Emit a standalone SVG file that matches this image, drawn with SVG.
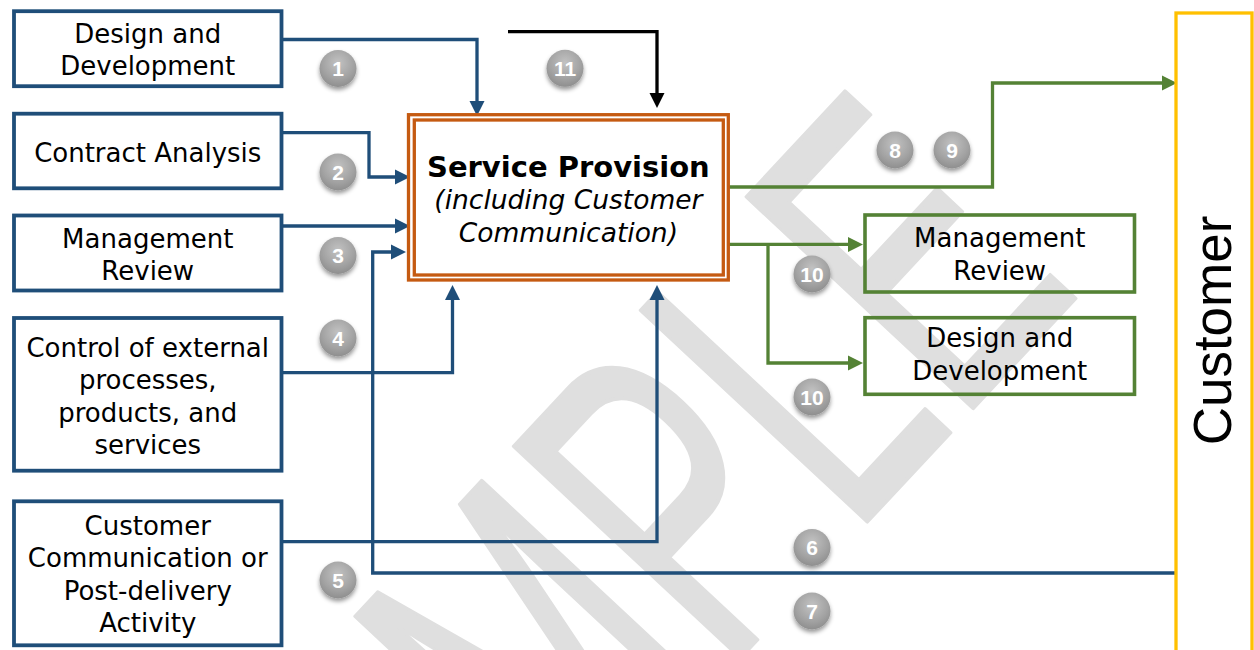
<svg xmlns="http://www.w3.org/2000/svg" width="1254" height="650" viewBox="0 0 1254 650">
  <style>
    .lbl { font-family: "DejaVu Sans", Verdana, sans-serif; font-size: 26px; fill: #000; text-anchor: middle; }
    .title { font-family: "DejaVu Sans", Verdana, sans-serif; font-size: 29px; font-weight: bold; fill: #000; text-anchor: middle; }
    .sub { font-family: "DejaVu Sans", Verdana, sans-serif; font-size: 26.5px; font-style: italic; fill: #000; text-anchor: middle; }
    .cust { font-family: "Liberation Sans", Arial, sans-serif; font-size: 53px; fill: #000; text-anchor: middle; }
    .box-blue { fill: none; stroke: #1F4E79; stroke-width: 3.8; }
    .box-green { fill: none; stroke: #548235; stroke-width: 3.6; }
    .box-orange { fill: none; stroke: #C55A11; stroke-width: 3.3; }
    .wire { fill: none; stroke-width: 3.3; stroke-linejoin: miter; }
    .w-blue { stroke: #1F4E79; marker-end: url(#ah-blue); }
    .w-green { stroke: #548235; marker-end: url(#ah-green); }
    .w-black { stroke: #000; marker-end: url(#ah-black); }
    .badge circle { fill: url(#ball); filter: url(#drop); }
    .badge text { font-family: "Liberation Sans", Arial, sans-serif; font-size: 21px; font-weight: bold; fill: #fff; text-anchor: middle; }
    .wm { font-family: "Liberation Sans", Arial, sans-serif; font-size: 450px; fill: #dfdfdf; stroke: #dfdfdf; stroke-width: 4; stroke-linejoin: round; }
  </style>
  <defs>
    <marker id="ah-blue" markerUnits="userSpaceOnUse" markerWidth="16" markerHeight="16" viewBox="0 0 16 16" refX="1" refY="8" orient="auto">
      <path d="M0,0.5 L15,8 L0,15.5 z" fill="#1F4E79"/>
    </marker>
    <marker id="ah-green" markerUnits="userSpaceOnUse" markerWidth="16" markerHeight="16" viewBox="0 0 16 16" refX="1" refY="8" orient="auto">
      <path d="M0,0.5 L15,8 L0,15.5 z" fill="#548235"/>
    </marker>
    <marker id="ah-black" markerUnits="userSpaceOnUse" markerWidth="16" markerHeight="16" viewBox="0 0 16 16" refX="1" refY="8" orient="auto">
      <path d="M0,0.5 L15,8 L0,15.5 z" fill="#000"/>
    </marker>
    <radialGradient id="ball" cx="50%" cy="35%" r="70%">
      <stop offset="0" stop-color="#c2c2c2"/>
      <stop offset="0.6" stop-color="#a3a3a3"/>
      <stop offset="1" stop-color="#8a8a8a"/>
    </radialGradient>
    <filter id="drop" x="-40%" y="-40%" width="180%" height="190%">
      <feDropShadow dx="0" dy="3" stdDeviation="2" flood-color="#000" flood-opacity="0.4"/>
    </filter>
  </defs>

  <rect width="1254" height="650" fill="#fff"/>

  <!-- background watermark -->
  <g id="watermark" transform="translate(312,1117) rotate(-47) scale(0.62,1)">
    <text class="wm" x="0" y="0">SAMPLE</text>
  </g>

  <!-- connectors -->
  <g id="connectors">
    <path class="wire w-blue" d="M283,39.5 H477 V102"/>
    <path class="wire w-blue" d="M283,132.7 H369 V177 H396"/>
    <path class="wire w-blue" d="M283,226 H396"/>
    <path class="wire w-blue" d="M283,372.7 H452.5 V299"/>
    <path class="wire w-blue" d="M283,541.7 H657 V299"/>
    <path class="wire w-blue" d="M1176,573 H372.7 V252 H392"/>
    <path class="wire w-black" d="M508,31.7 H657 V94"/>
    <path class="wire w-green" d="M729,187 H992.5 V83 H1163"/>
    <path class="wire w-green" d="M729,244.4 H849"/>
    <path class="wire w-green" d="M768,244.4 V363 H849"/>
  </g>

  <!-- input processes -->
  <g id="in-design">
    <rect class="box-blue" x="14" y="11.2" width="267.5" height="75"/>
    <text class="lbl" x="147.75" y="43">Design and</text>
    <text class="lbl" x="147.75" y="75">Development</text>
  </g>
  <g id="in-contract">
    <rect class="box-blue" x="14" y="113.7" width="267.5" height="74.6"/>
    <text class="lbl" x="147.75" y="162">Contract Analysis</text>
  </g>
  <g id="in-review">
    <rect class="box-blue" x="14" y="215.5" width="267.5" height="75"/>
    <text class="lbl" x="147.75" y="247.5">Management</text>
    <text class="lbl" x="147.75" y="280">Review</text>
  </g>
  <g id="in-external">
    <rect class="box-blue" x="14" y="318" width="267.5" height="152.7"/>
    <text class="lbl" x="147.75" y="357">Control of external</text>
    <text class="lbl" x="147.75" y="389.3">processes,</text>
    <text class="lbl" x="147.75" y="421.6">products, and</text>
    <text class="lbl" x="147.75" y="454">services</text>
  </g>
  <g id="in-customer-comm">
    <rect class="box-blue" x="14" y="501.3" width="267.5" height="144"/>
    <text class="lbl" x="147.75" y="535">Customer</text>
    <text class="lbl" x="147.75" y="567.3">Communication or</text>
    <text class="lbl" x="147.75" y="599.6">Post-delivery</text>
    <text class="lbl" x="147.75" y="632">Activity</text>
  </g>

  <!-- central process -->
  <g id="service-provision">
    <rect class="box-orange" x="408.5" y="114.7" width="319.8" height="165.3"/>
    <rect class="box-orange" x="414.3" y="120" width="309" height="155"/>
    <text class="title" x="568.4" y="177">Service Provision</text>
    <text class="sub" x="568.4" y="208.5">(including Customer</text>
    <text class="sub" x="568.4" y="241.5">Communication)</text>
  </g>

  <!-- output processes -->
  <g id="out-review">
    <rect class="box-green" x="865" y="215" width="269.5" height="77"/>
    <text class="lbl" x="999.75" y="247.3">Management</text>
    <text class="lbl" x="999.75" y="280">Review</text>
  </g>
  <g id="out-design">
    <rect class="box-green" x="865" y="317.7" width="269.5" height="76.6"/>
    <text class="lbl" x="999.75" y="346.7">Design and</text>
    <text class="lbl" x="999.75" y="380">Development</text>
  </g>

  <!-- customer column -->
  <g id="customer">
    <rect x="1176" y="13" width="76" height="700" fill="none" stroke="#FFC000" stroke-width="3.3"/>
    <text class="cust" transform="translate(1231,330.5) rotate(-90)">Customer</text>
  </g>

  <!-- numbered badges -->
  <g id="badges">
    <g class="badge" transform="translate(338,68.5)"><circle r="18.5"/><text y="7.5">1</text></g>
    <g class="badge" transform="translate(338,172)"><circle r="18.5"/><text y="7.5">2</text></g>
    <g class="badge" transform="translate(338,255.5)"><circle r="18.5"/><text y="7.5">3</text></g>
    <g class="badge" transform="translate(338,338)"><circle r="18.5"/><text y="7.5">4</text></g>
    <g class="badge" transform="translate(338,580)"><circle r="18.5"/><text y="7.5">5</text></g>
    <g class="badge" transform="translate(812,547.5)"><circle r="18.5"/><text y="7.5">6</text></g>
    <g class="badge" transform="translate(812,611)"><circle r="18.5"/><text y="7.5">7</text></g>
    <g class="badge" transform="translate(895,150)"><circle r="18.5"/><text y="7.5">8</text></g>
    <g class="badge" transform="translate(952,150)"><circle r="18.5"/><text y="7.5">9</text></g>
    <g class="badge" transform="translate(812,274)"><circle r="18.5"/><text y="7.5">10</text></g>
    <g class="badge" transform="translate(812,397)"><circle r="18.5"/><text y="7.5">10</text></g>
    <g class="badge" transform="translate(565,68.3)"><circle r="18.5"/><text y="7.5">11</text></g>
  </g>
</svg>
